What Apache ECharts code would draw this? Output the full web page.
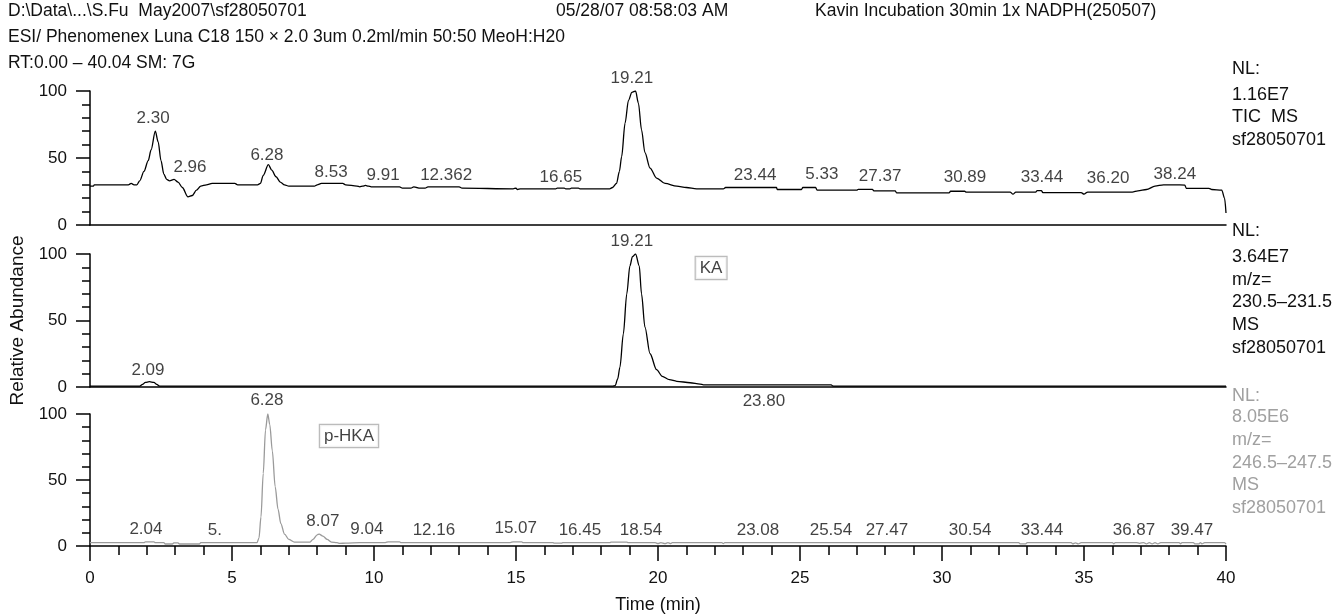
<!DOCTYPE html>
<html>
<head>
<meta charset="utf-8">
<script src="https://cdn.jsdelivr.net/npm/echarts@6/dist/echarts.min.js"></script>
<style>
html,body{margin:0;padding:0;background:#fff;}
#chart{width:1335px;height:615px;}
</style>
</head>
<body>
<div id="chart"></div>
<script>
// ---------- data (time in min, relative abundance %) ----------
const ticTrace = [[0,29],[0.12,29],[0.15,30],[1.35,30],[1.45,31],[1.55,30],[1.65,30],[1.75,33],[1.9,40],[2.05,48],[2.15,56],[2.3,70],[2.4,62],[2.5,48],[2.6,38],[2.7,34],[2.8,33],[2.96,34],[3.1,32],[3.25,28],[3.45,21],[3.6,22],[3.75,26],[3.9,29],[4.1,30],[4.3,31],[5.1,31],[5.2,30],[5.9,30],[6.0,31],[6.1,37],[6.28,45],[6.4,41],[6.55,36],[6.7,32],[6.85,30],[7.0,29],[7.9,29],[8.0,30],[8.15,31],[8.9,31],[9.0,30],[9.4,29],[9.5,28.5],[9.6,29],[9.7,29.5],[9.8,29],[9.9,28.5],[10.9,28.5],[11.0,27.5],[11.3,27.5],[11.4,28.5],[11.5,28],[11.6,27.5],[11.8,27.5],[11.9,28.5],[13.0,28.5],[13.1,27.5],[14.9,27],[15.0,27.5],[15.05,26.5],[15.15,27],[16.4,27],[16.45,27.5],[16.7,27.5],[16.75,27],[16.9,27],[16.95,27.5],[17.2,27.5],[17.25,27],[18.3,27],[18.4,28],[18.54,31],[18.64,40],[18.72,51],[18.84,76],[18.96,93],[19.08,99],[19.21,100],[19.31,91],[19.42,71],[19.54,54],[19.72,42.5],[19.95,35],[20.25,31],[20.66,29],[21.0,28],[21.36,27],[22.3,27],[22.38,28],[24.17,28],[24.2,26.5],[25.05,26.5],[25.1,28],[25.55,28],[25.6,26],[27.0,26],[27.05,26.6],[27.55,26.6],[27.6,25.5],[28.35,25.5],[28.4,24],[30.25,24],[30.3,25.2],[30.8,25.2],[30.85,24.6],[32.4,24.6],[32.5,23],[32.6,24.6],[33.3,24.6],[33.35,25.6],[33.5,25.6],[33.55,24.2],[34.9,24.2],[35.0,23],[35.13,24.6],[36.7,24.6],[36.9,25.5],[37.2,26.5],[37.5,29],[37.8,30],[38.2,30],[38.55,29.8],[38.6,27.4],[39.4,27.4],[39.5,26.5],[39.85,26],[39.95,20],[40,9]];

const kaTrace = [[0,0.6],[1.75,0.6],[1.85,2],[1.95,3.5],[2.09,4],[2.25,3.5],[2.35,2],[2.45,0.6],[18.4,0.6],[18.49,1],[18.58,6],[18.66,15],[18.78,40],[18.9,70],[19.01,91],[19.1,98],[19.21,100],[19.34,91],[19.42,70],[19.54,45],[19.72,25],[19.95,13],[20.15,8],[20.4,5.5],[20.66,4.3],[21.13,3.2],[21.48,2.2],[21.6,1.6],[26.1,1.6],[26.15,0.8],[26.2,0.6],[40,0.6]];

const hkaTrace = [[0,2.5],[1.9,2.5],[1.95,3.2],[2.25,3.2],[2.3,2.5],[2.6,2.5],[2.65,1.5],[2.9,1.5],[2.95,2.3],[3.1,2.3],[3.15,1.5],[3.85,1.5],[3.9,2.5],[5.88,2.5],[5.95,6],[6.02,22],[6.1,55],[6.18,88],[6.26,100],[6.33,92],[6.42,72],[6.52,45],[6.62,28],[6.72,17],[6.85,9],[7.0,5],[7.2,3],[7.75,3],[7.85,5],[8.0,8.5],[8.07,9],[8.2,7.5],[8.35,5],[8.5,3],[8.7,2.5],[8.8,2],[9.0,2.2],[9.5,2.6],[10.4,2.6],[10.5,3.2],[10.9,3.2],[10.95,2.6],[14.8,2.6],[14.9,3.2],[15.2,3.2],[15.25,2.6],[16.3,2.6],[16.35,2.2],[16.6,2.2],[16.65,2.6],[18.3,2.6],[18.35,3],[18.9,3],[18.95,2.6],[19.9,2.6],[20.0,1.8],[20.1,2.6],[20.25,1.8],[20.35,2.6],[20.45,1.8],[20.5,2.6],[22.25,2.6],[22.3,1.8],[22.35,2.6],[32.7,2.6],[32.75,1.6],[32.95,1.6],[33.0,2.6],[34.55,2.6],[34.6,1.6],[34.7,2.4],[34.8,1.6],[34.9,2.6],[36.0,2.6],[36.05,1.6],[36.1,2.6],[36.85,2.6],[36.95,2.0],[37.1,2.6],[37.2,1.6],[37.3,2.6],[37.4,1.6],[37.5,2.6],[37.6,1.6],[37.7,2.6],[38.35,2.6],[38.4,1.6],[38.45,2.6],[38.85,2.6],[38.9,1.6],[39.05,1.6],[39.1,2.6],[39.15,1.6],[39.25,2.6],[39.95,2.6],[40,1.5]];

// peak labels: [time, abundance at text centre, text]
const ticLabels = [[2.22,79.9,'2.30'],[3.52,43.3,'2.96'],[6.23,52.2,'6.28'],[8.49,39.6,'8.53'],[10.32,37.3,'9.91'],[12.54,37.3,'12.362'],[16.58,35.8,'16.65'],[19.08,109.7,'19.21'],[23.42,37.3,'23.44'],[25.77,38,'5.33'],[27.82,36.6,'27.37'],[30.81,35.8,'30.89'],[33.52,35.8,'33.44'],[35.85,35.1,'36.20'],[38.2,38,'38.24']];
const kaLabels = [[19.08,109.8,'19.21'],[2.04,12.8,'2.09'],[23.73,-10.5,'23.80']];
const hkaLabels = [[6.23,110,'6.28'],[1.97,12.8,'2.04'],[4.40,12,'5.'],[8.20,18.8,'8.07'],[9.75,12.8,'9.04'],[12.11,12,'12.16'],[14.99,13.5,'15.07'],[17.25,12,'16.45'],[19.40,12,'18.54'],[23.52,12,'23.08'],[26.09,12,'25.54'],[28.06,12,'27.47'],[30.99,12,'30.54'],[33.52,12,'33.44'],[36.76,12,'36.87'],[38.80,12,'39.47']];
const boxLabels = [[1,21.87,89.5,'KA'],[2,9.12,83.3,'p-HKA']];

const xTicks = [0,5,10,15,20,25,30,35,40];
const yTicks = [0,50,100];

const headerLines = [
  ['D:\\Data\\...\\S.Fu  May2007\\sf28050701', 8, 12],
  ['05/28/07 08:58:03 AM', 556, 12],
  ['Kavin Incubation 30min 1x NADPH(250507)', 815, 12],
  ['ESI/ Phenomenex Luna C18 150 \u00d7 2.0 3um 0.2ml/min 50:50 MeoH:H20', 8, 38],
  ['RT:0.00 \u2013 40.04 SM: 7G', 8, 64]
];
const nlBlocks = [
  {lines:['NL:','1.16E7','TIC  MS','sf28050701'], ys:[70,96,118,141], color:'#111'},
  {lines:['NL:','3.64E7','m/z=','230.5\u2013231.5','MS','sf28050701'], ys:[232,258,281,303,326,349], color:'#111'},
  {lines:['NL:','8.05E6','m/z=','246.5\u2013247.5','MS','sf28050701'], ys:[397,418,441,464,486,509], color:'#a0a0a0'}
];

// ---------- chart ----------
const FONT = '"Liberation Sans", Arial, Helvetica, sans-serif';
const TXT = '#111';
const grids = [
  {left:90, width:1136, top:91, height:134},
  {left:90, width:1136, top:254, height:133},
  {left:90, width:1136, top:414, height:133}
];
const xMin = xTicks[0], xMax = xTicks[xTicks.length-1];
const xAxes = grids.map((g,i)=>({
  type:'value', gridIndex:i, min:xMin, max:xMax, interval:xTicks[1]-xTicks[0],
  axisLine:{show:true, onZero:false, lineStyle:{color:'#000', width:1.5}},
  axisTick:{show:i===2, length:15, lineStyle:{color:'#000', width:1.5}},
  minorTick:{show:i===2, splitNumber:5, length:9, lineStyle:{color:'#000', width:1.5}},
  axisLabel:{show:i===2, color:TXT, fontSize:17, fontFamily:FONT, margin:24},
  splitLine:{show:false},
  name: i===2 ? 'Time (min)' : '', nameLocation:'middle', nameGap:50,
  nameTextStyle:{color:TXT, fontSize:18, fontFamily:FONT}
}));
const yAxes = grids.map((g,i)=>({
  type:'value', gridIndex:i, min:yTicks[0], max:yTicks[yTicks.length-1], interval:yTicks[1]-yTicks[0],
  axisLine:{show:true, lineStyle:{color:'#000', width:1.5}},
  axisTick:{show:true, length:14, lineStyle:{color:'#000', width:1.5}},
  minorTick:{show:true, splitNumber:5, length:8, lineStyle:{color:'#000', width:1.5}},
  axisLabel:{color:TXT, fontSize:17, fontFamily:FONT, margin:23},
  splitLine:{show:false},
  name: i===1 ? 'Relative Abundance' : '', nameLocation:'middle', nameGap:55, nameRotate:90,
  nameTextStyle:{color:TXT, fontSize:19, fontFamily:FONT}
}));

function traceSeries(data, idx, color){
  return {type:'line', xAxisIndex:idx, yAxisIndex:idx, data:data, showSymbol:false, symbol:'none',
    smooth:0.3, smoothMonotone:'x', lineStyle:{color:color, width:1.3}, silent:true, animation:false, z:3};
}
function labelSeries(labels, idx){
  return {type:'scatter', xAxisIndex:idx, yAxisIndex:idx, symbolSize:0, clip:false, silent:true, animation:false,
    data: labels.map(l=>({value:[l[0],l[1]], name:l[2]})),
    label:{show:true, position:'inside', formatter:'{b}', color:TXT, fontSize:17, fontFamily:FONT}, z:5};
}
const boxSeries = boxLabels.map(b=>({
  type:'scatter', xAxisIndex:b[0], yAxisIndex:b[0], symbolSize:0, clip:false, silent:true, animation:false,
  data:[{value:[b[1],b[2]], name:b[3]}],
  label:{show:true, position:'inside', formatter:'{b}', color:TXT, fontSize:17, fontFamily:FONT,
    borderColor:'#aaa', borderWidth:1.2, padding:[3,4,2,4], backgroundColor:'#fff'}, z:6
}));

const graphics = [];
headerLines.forEach(h=>graphics.push({type:'text', left:h[1], top:h[2]-10, silent:true,
  style:{text:h[0], fill:TXT, font:'17.5px '+FONT}}));
nlBlocks.forEach(b=>b.lines.forEach((t,k)=>graphics.push({type:'text', left:1232, top:b.ys[k]-10, silent:true,
  style:{text:t, fill:b.color, font:'18px '+FONT}})));

const chart = echarts.init(document.getElementById('chart'), null, {renderer:'canvas'});
chart.setOption({
  animation:false,
  backgroundColor:'#fff',
  grid:grids,
  xAxis:xAxes,
  yAxis:yAxes,
  series:[
    traceSeries(ticTrace,0,'#000'),
    traceSeries(kaTrace,1,'#000'),
    traceSeries(hkaTrace,2,'#9a9a9a'),
    labelSeries(ticLabels,0),
    labelSeries(kaLabels,1),
    labelSeries(hkaLabels,2)
  ].concat(boxSeries),
  graphic:graphics
});
</script>
</body>
</html>
